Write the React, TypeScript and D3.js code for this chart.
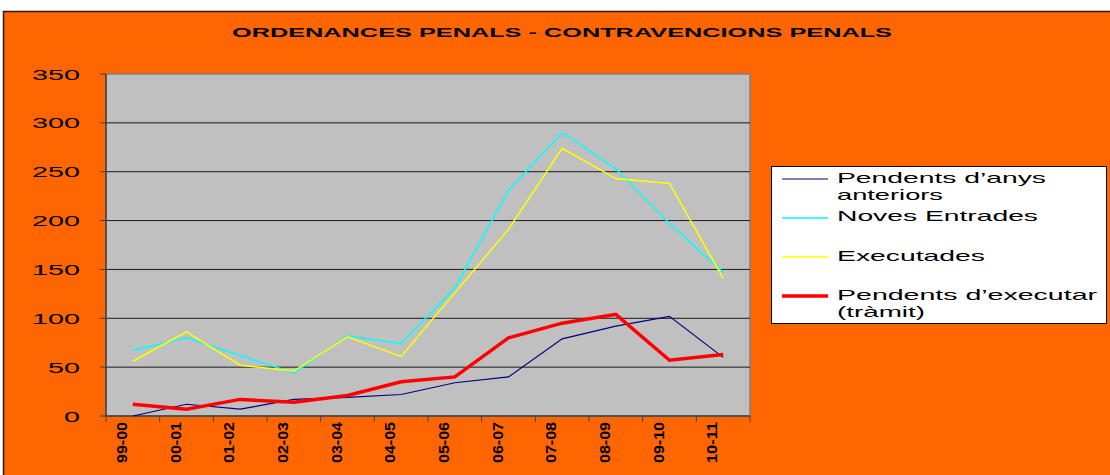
import React from 'react';
import * as d3 from 'd3';

// Chart data
const periods = ['99-00', '00-01', '01-02', '02-03', '03-04', '04-05', '05-06', '06-07', '07-08', '08-09', '09-10', '10-11'];
const pendentsAnteriors = [0, 12, 7, 17, 19, 22, 34, 40, 79, 92, 102, 60];
const novesEntrades = [67, 80, 62, 44, 82, 74, 131, 231, 290, 253, 197, 147];
const executades = [56, 86, 52, 46, 81, 61, 126, 191, 274, 243, 238, 141];
const pendentsExecutar = [12, 7, 17, 14, 21, 35, 40, 80, 95, 104, 57, 63];
const yTicks = [0, 50, 100, 150, 200, 250, 300, 350];

const series = [
  { name: ['Pendents d\u2019anys', 'anteriors'], values: pendentsAnteriors, color: '#000080', width: 1.2 },
  { name: ['Noves Entrades'], values: novesEntrades, color: '#00FFFF', width: 1.5 },
  { name: ['Executades'], values: executades, color: '#FFFF00', width: 1.5 },
  { name: ['Pendents d\u2019executar', '(tr\u00e0mit)'], values: pendentsExecutar, color: '#FF0000', width: 3.5 },
];

const W = 1110;
const H = 475;
const plot = { left: 106, right: 750, top: 74, bottom: 416 };
const font = 'Arial, "Liberation Sans", sans-serif';

const App: React.FC = () => {
  const x = d3.scaleBand<string>().domain(periods).range([plot.left, plot.right]);
  const y = d3.scaleLinear().domain([0, 350]).range([plot.bottom, plot.top]);
  const cx = (p: string) => (x(p) ?? 0) + x.bandwidth() / 2;

  const line = d3.line<number>()
    .x((_, i) => cx(periods[i]))
    .y(d => y(d));

  // legend layout
  const legendRows = [
    { lineY: 179, textY: [183, 200] },
    { lineY: 218, textY: [221] },
    { lineY: 257, textY: [261] },
    { lineY: 296, textY: [300, 317] },
  ];
  const legendWidths: Record<string, number> = {
    'Pendents d\u2019anys': 209, 'anteriors': 106, 'Noves Entrades': 201,
    'Executades': 148, 'Pendents d\u2019executar': 260, '(tr\u00e0mit)': 88,
  };

  return (
    <svg width={W} height={H} style={{ position: 'absolute', left: 0, top: 0 }} fontFamily={font}>
      <rect x={0} y={0} width={W} height={H} fill="#fff" />
      <rect x={3.5} y={11.5} width={W} height={H} fill="#FF6600" stroke="#2a1a10" strokeWidth={1.5} />

      <text x={562} y={37} textAnchor="middle" fontSize={12.5} fontWeight="bold" fill="#000"
        textLength={660} lengthAdjust="spacingAndGlyphs">
        ORDENANCES PENALS - CONTRAVENCIONS PENALS
      </text>

      {/* plot area */}
      <rect x={plot.left} y={plot.top} width={plot.right - plot.left} height={plot.bottom - plot.top}
        fill="#C0C0C0" stroke="#808080" strokeWidth={1.5} />
      {yTicks.filter(t => t > 0 && t < 350).map(t => (
        <line key={t} x1={plot.left} x2={plot.right} y1={y(t)} y2={y(t)} stroke="#1a1a1a" strokeWidth={1} />
      ))}

      {/* y axis */}
      <line x1={plot.left} x2={plot.left} y1={plot.top} y2={plot.bottom} stroke="#404040" strokeWidth={1.5} />
      {yTicks.map(t => {
        const s = String(t);
        return (
          <g key={t}>
            <line x1={plot.left - 6} x2={plot.left} y1={y(t)} y2={y(t)} stroke="#404040" strokeWidth={1} />
            <text x={80} y={y(t) + 5.5} textAnchor="end" fontSize={14} fill="#000"
              textLength={s.length * 16} lengthAdjust="spacingAndGlyphs">{s}</text>
          </g>
        );
      })}

      {/* x axis */}
      <line x1={plot.left} x2={plot.right} y1={plot.bottom} y2={plot.bottom} stroke="#404040" strokeWidth={1.5} />
      {[...periods.map(p => x(p) ?? 0), plot.right].map((v, i) => (
        <line key={i} x1={v} x2={v} y1={plot.bottom} y2={plot.bottom + 6} stroke="#404040" strokeWidth={1} />
      ))}
      {periods.map(p => (
        <text key={p} transform={`translate(${cx(p) - 6},${plot.bottom + 6}) rotate(-90)`} fontSize={14}
          fontWeight="bold" fill="#000" textAnchor="end" textLength={41}
          lengthAdjust="spacingAndGlyphs">{p}</text>
      ))}

      {/* lines */}
      {series.map(s => (
        <path key={s.color} d={line(s.values) ?? ''} fill="none" stroke={s.color} strokeWidth={s.width}
          strokeLinejoin="miter" />
      ))}

      {/* legend */}
      <rect x={771.5} y={166.5} width={335} height={157} fill="#fff" stroke="#000" strokeWidth={1} />
      {series.map((s, i) => (
        <g key={s.color}>
          <line x1={782} x2={828} y1={legendRows[i].lineY} y2={legendRows[i].lineY} stroke={s.color}
            strokeWidth={s.width} />
          {s.name.map((n, j) => (
            <text key={n} x={837} y={legendRows[i].textY[j]} fontSize={14.5} fill="#000"
              textLength={legendWidths[n]} lengthAdjust="spacingAndGlyphs">{n}</text>
          ))}
        </g>
      ))}
    </svg>
  );
};

export default App;
